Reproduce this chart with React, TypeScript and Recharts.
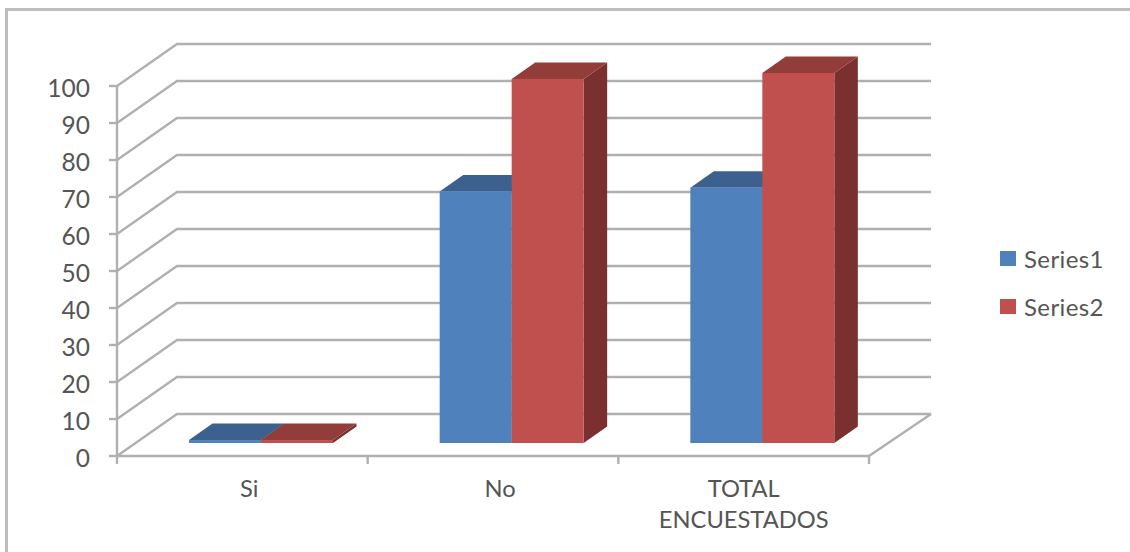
import React from "react";
import { BarChart, Bar, XAxis, YAxis, CartesianGrid, Legend } from "recharts";

// Survey responses per answer
const categories = ["Si", "No", "TOTAL ENCUESTADOS"];
const series1Values = [0.8, 68, 69];
const series2Values = [0.8, 98.4, 100];
const yTicks = [0, 10, 20, 30, 40, 50, 60, 70, 80, 90, 100];

const rows = categories.map((name, i) => ({
  name,
  Series1: series1Values[i],
  Series2: series2Values[i],
}));

const FONT = "Lato, 'Open Sans', sans-serif";
const TEXT = "#555555";
const LINE = "#b0b0b0";

// Oblique projection: how far the back wall sits from the front plane
const WALL_DX = 60;
const WALL_DY = -42;
// Where a column's front face stands on the floor, and the column's depth
const FLOOR_DX = 19;
const FLOOR_DY = -13;
const DEPTH_DX = 23.5;
const DEPTH_DY = -16.5;

const BLUE = { front: "#4f81bd", top: "#3c618e", side: "#2f4d71" };
const RED = { front: "#c0504d", top: "#923d3a", side: "#7a302e" };

function Column(props: any, tone: typeof BLUE) {
  const { x, y, width, height } = props;
  const left = x + FLOOR_DX;
  const right = left + width;
  const top = y + FLOOR_DY;
  const bottom = top + height;
  const pts = (list: number[][]) => list.map((p) => p.join(",")).join(" ");
  return (
    <g>
      <polygon
        fill={tone.side}
        points={pts([
          [right, top],
          [right + DEPTH_DX, top + DEPTH_DY],
          [right + DEPTH_DX, bottom + DEPTH_DY],
          [right, bottom],
        ])}
      />
      <polygon
        fill={tone.top}
        points={pts([
          [left, top],
          [left + DEPTH_DX, top + DEPTH_DY],
          [right + DEPTH_DX, top + DEPTH_DY],
          [right, top],
        ])}
      />
      <rect x={left} y={top} width={width} height={Math.max(height, 1)} fill={tone.front} />
    </g>
  );
}

// A gridline runs from the front plane back along the side wall, then across the back wall
function WallLine(props: any) {
  const { x1, x2, y1, key: lineKey } = props;
  const backY = y1 + WALL_DY;
  const isFloor = y1 > 450;
  return (
    <g key={lineKey ?? y1}>
      <polyline
        fill="none"
        stroke={LINE}
        strokeWidth={2.4}
        points={`${x1},${y1} ${x1 + WALL_DX},${backY} ${x2 + WALL_DX + 2},${backY}`}
      />
      {isFloor && (
        <line x1={x2} y1={y1} x2={x2 + WALL_DX + 2} y2={backY} stroke={LINE} strokeWidth={2.4} />
      )}
    </g>
  );
}

// Category label, with tick marks on the band edges rather than the band centre
function CategoryTick(props: any) {
  const { x, y, payload, width, index, visibleTicksCount } = props;
  const band = width / visibleTicksCount;
  const wrapped = payload.value === "TOTAL ENCUESTADOS";
  const lines = wrapped ? ["TOTAL", "ENCUESTADOS"] : [payload.value];
  const labelX = wrapped ? x : x + 7;
  return (
    <g>
      <line x1={x - band / 2} x2={x - band / 2} y1={456} y2={464} stroke={LINE} strokeWidth={2.4} />
      {index === visibleTicksCount - 1 && (
        <line x1={x + band / 2} x2={x + band / 2} y1={456} y2={464} stroke={LINE} strokeWidth={2.4} />
      )}
      <text textAnchor="middle" fontFamily={FONT} fontSize={23.7} fill={TEXT}>
        {lines.map((line: string, i: number) => (
          <tspan key={line} x={labelX} y={y + 33 + i * 30.5}>
            {line}
          </tspan>
        ))}
      </text>
    </g>
  );
}

function LegendList(props: any) {
  return (
    <div style={{ fontFamily: FONT, fontSize: 24, letterSpacing: 0.4, color: TEXT }}>
      {props.payload.map((item: any) => (
        <div key={item.value} style={{ display: "flex", alignItems: "center", height: 48 }}>
          <span
            style={{
              display: "inline-block",
              width: 16,
              height: 15,
              background: item.color,
              marginRight: 8,
            }}
          />
          {item.value}
        </div>
      ))}
    </div>
  );
}

export default function App() {
  return (
    <div
      style={{
        position: "absolute",
        left: 0,
        top: 0,
        width: 1130,
        height: 552,
        background: "#fff",
        overflow: "hidden",
      }}
    >
      <div
        style={{
          position: "absolute",
          left: 5,
          top: 8,
          width: 1140,
          height: 560,
          border: "3px solid #bdbdbd",
          boxSizing: "border-box",
        }}
      />
      <BarChart
        width={1130}
        height={552}
        data={rows}
        barSize={72}
        barGap={0}
        margin={{ top: 86, right: 261, bottom: 0, left: 0 }}
      >
        <CartesianGrid vertical={false} horizontal={WallLine} />
        <XAxis
          dataKey="name"
          height={96}
          interval={0}
          tickLine={false}
          axisLine={{ stroke: LINE, strokeWidth: 2.4 }}
          tick={CategoryTick}
        />
        <YAxis
          width={117}
          domain={[0, 100]}
          ticks={yTicks}
          interval={0}
          tickSize={8}
          tickMargin={19}
          axisLine={{ stroke: LINE, strokeWidth: 2.4 }}
          tickLine={{ stroke: LINE, strokeWidth: 2.4 }}
          tick={{ fill: TEXT, fontFamily: FONT, fontSize: 24.5, dy: 2 }}
        />
        <Bar
          dataKey="Series1"
          fill={BLUE.front}
          isAnimationActive={false}
          shape={(p: any) => Column(p, BLUE)}
        />
        <Bar
          dataKey="Series2"
          fill={RED.front}
          isAnimationActive={false}
          shape={(p: any) => Column(p, RED)}
        />
        <Legend
          layout="vertical"
          align="center"
          verticalAlign="middle"
          wrapperStyle={{ left: 1000, top: 234, width: 125 }}
          content={LegendList}
        />
      </BarChart>
    </div>
  );
}
